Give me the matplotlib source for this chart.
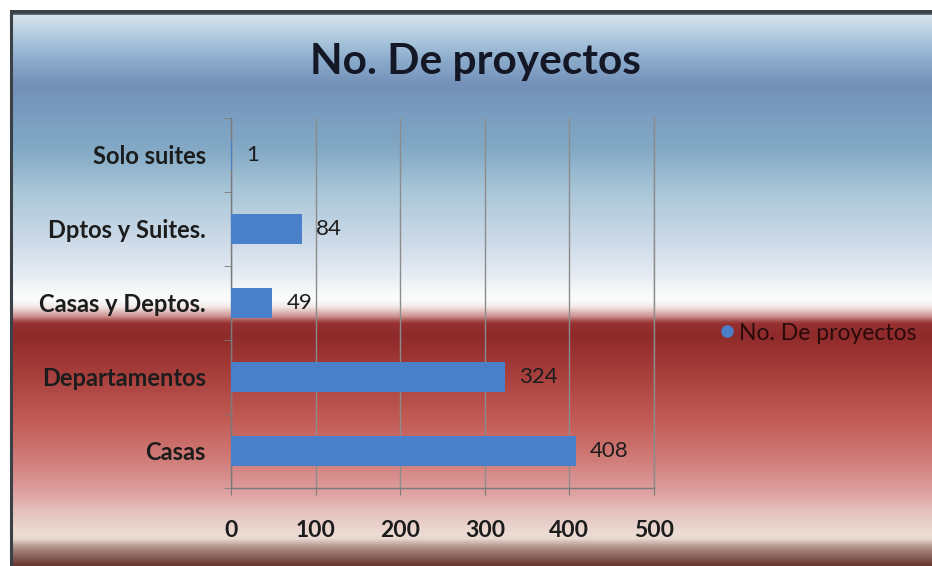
import numpy as np
import matplotlib
matplotlib.use("Agg")
import matplotlib.pyplot as plt
from matplotlib.colors import LinearSegmentedColormap
from matplotlib.lines import Line2D

categories = ["Casas", "Departamentos", "Casas y Deptos.", "Dptos y Suites.", "Solo suites"]
values = [408, 324, 49, 84, 1]
x_ticks = [0, 100, 200, 300, 400, 500]
title = "No. De proyectos"
series_name = "No. De proyectos"

W, H = 932, 566
fig = plt.figure(figsize=(W / 100, H / 100), dpi=100)
fig.patch.set_facecolor("white")

# Background: vertical blue-to-red gradient inside the chart frame
stops = [
    (10, "#3a4248"), (12, "#3a4248"), (14, "#d8e3ec"), (40, "#a8c5dc"),
    (60, "#8aaacb"), (85, "#7390b8"), (115, "#7a9dc0"), (150, "#84aac6"),
    (190, "#a8c6d8"), (240, "#ccdae8"), (275, "#e6ecf4"), (292, "#f6faf8"),
    (300, "#fafcfa"), (307, "#f2e8e6"), (315, "#d4a2a0"), (323, "#983232"),
    (335, "#8e2a2a"), (370, "#a43c3a"), (420, "#c25a55"), (460, "#d07c78"),
    (490, "#dc9c9c"), (515, "#e6c4c0"), (535, "#ecdcd4"), (540, "#e8d8d0"),
    (550, "#a88880"), (566, "#6a3c34"),
]
pos = [(p - 10) / (566 - 10) for p, _ in stops]
cmap = LinearSegmentedColormap.from_list("bg", list(zip(pos, [c for _, c in stops])))
bg = fig.add_axes([0, 0, 1, 1], zorder=-5)
bg.set_xlim(0, W)
bg.set_ylim(H, 0)
bg.axis("off")
grad = np.linspace(0, 1, 800).reshape(-1, 1)
bg.imshow(grad, cmap=cmap, aspect="auto", extent=(10, W, H, 10), interpolation="bilinear")
bg.plot([11, 11], [10, H], color="#3a4248", lw=2.2, solid_capstyle="butt")

# Main bar chart
ax = fig.add_axes([231 / W, 1 - 488 / H, (654 - 231) / W, (488 - 118) / H])
ax.set_facecolor("none")
ypos = np.arange(len(categories))
bar_color = "#4a7fc9"
ax.barh(ypos, values, height=0.4, color=bar_color, zorder=3)

ax.set_xlim(0, 500)
ax.set_ylim(-0.5, len(categories) - 0.5)
ax.set_xticks(x_ticks)
ax.set_xticklabels([str(t) for t in x_ticks])
ax.set_yticks(ypos)
ax.set_yticklabels(categories)
ax.set_yticks(np.arange(-0.5, len(categories), 1.0), minor=True)

ax.grid(axis="x", color="#8c8c8c", lw=1.0, zorder=1)
ax.spines["top"].set_visible(False)
ax.spines["right"].set_color("#8c8c8c")
ax.spines["right"].set_linewidth(1.0)
for s in ["left", "bottom"]:
    ax.spines[s].set_color("#7a7a7a")
    ax.spines[s].set_linewidth(1.0)

ax.tick_params(axis="y", which="major", length=0, pad=18,
               labelsize=17, labelcolor="#1c1c1c")
ax.tick_params(axis="y", which="minor", length=5, color="#7a7a7a", direction="out")
ax.tick_params(axis="x", which="major", length=5, color="#7a7a7a", direction="out", pad=18,
               labelsize=16.5, labelcolor="#1c1c1c")
for lbl in ax.get_xticklabels() + ax.get_yticklabels():
    lbl.set_fontfamily("Lato")
    lbl.set_fontweight("bold")

for y, v in zip(ypos, values):
    ax.annotate(str(v), (v, y), xytext=(10, 0), textcoords="offset points",
                va="center", ha="left", fontsize=16, family="Lato", color="#1c1c1c", zorder=4)

fig.text(475 / W, 1 - 62 / H, title, ha="center", va="center",
         fontsize=30.5, fontweight="bold", family="Lato", color="#141826")

handle = Line2D([], [], marker="o", linestyle="none", markersize=8,
                markerfacecolor=bar_color, markeredgecolor=bar_color)
fig.legend([handle], [series_name], loc="center left",
           bbox_to_anchor=(706 / W, 1 - 333 / H), frameon=False,
           handletextpad=0.05, handlelength=1.0, borderaxespad=0,
           prop={"family": "Lato", "size": 16.5}, labelcolor="#2a0a0a")

fig.savefig("out.png", dpi=100)
